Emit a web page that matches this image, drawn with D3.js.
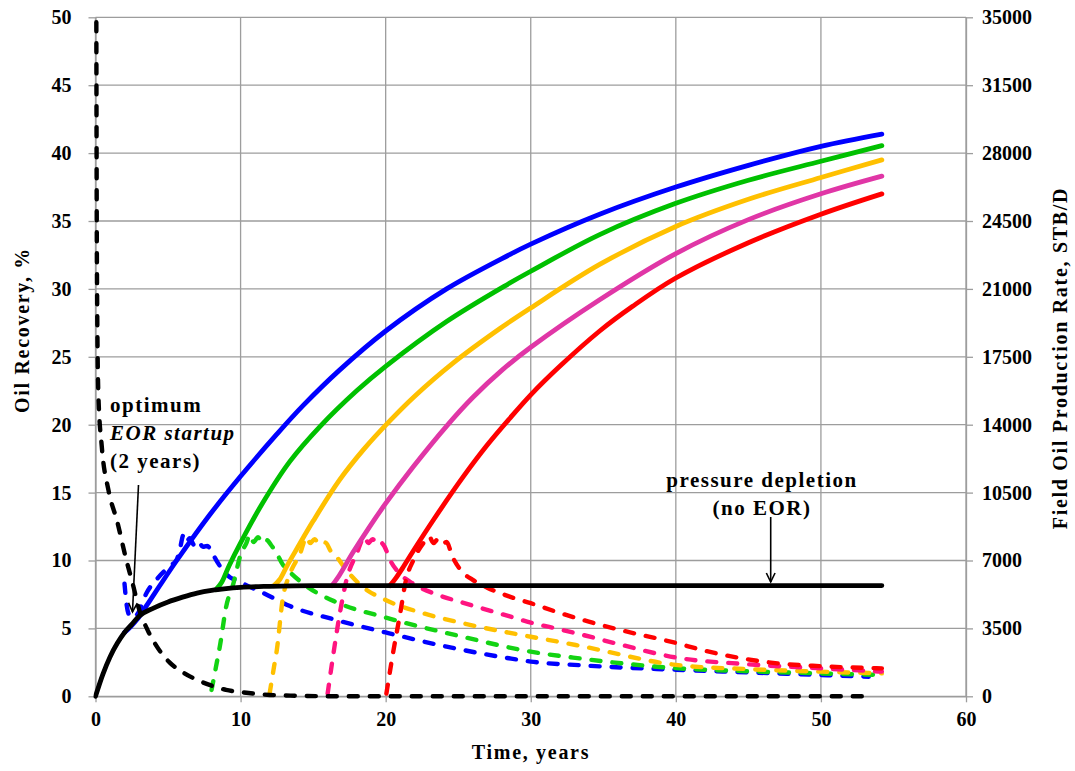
<!DOCTYPE html>
<html>
<head>
<meta charset="utf-8">
<script src="https://cdn.jsdelivr.net/npm/d3@7"></script>
<style>
  html, body { margin: 0; padding: 0; background: #fff; }
  svg { display: block; }
  text { font-family: "Liberation Serif", "Times New Roman", serif; font-weight: bold; fill: #000; }
</style>
</head>
<body>
<svg id="chart" width="1075" height="771"></svg>
<script>
// Axis ticks
const timeTicks = [0, 10, 20, 30, 40, 50, 60];
const recoveryTicks = [0, 5, 10, 15, 20, 25, 30, 35, 40, 45, 50];
const rateTicks = [0, 3500, 7000, 10500, 14000, 17500, 21000, 24500, 28000, 31500, 35000];

// Oil recovery, % — [time in years, recovery]
const recoveryDepletion = [[0,0],[0.5,1.6],[1,2.9],[1.5,3.9],[2,4.7],[2.5,5.3],[3,5.9],[4,6.5],[5,6.95],[6,7.3],[7,7.6],[8,7.8],[9,7.93],[10,8.02],[12,8.1],[15,8.15],[54.2,8.15]];
const recoveryEOR2  = [[2.0,4.7],[2.4,5.1],[2.9,5.7],[3.6,6.8],[4.4,8.1],[5.6,10.0],[7.9,13.4],[10,16.2],[12.5,19.3],[14.3,21.4],[16.8,24.0],[20,26.9],[24.2,30.0],[28.5,32.5],[30,33.3],[34.75,35.5],[40,37.5],[45,39.1],[50,40.5],[54.2,41.4]];
const recoveryEOR8  = [[8.3,7.85],[8.7,8.4],[9.2,9.6],[10,11.3],[11.5,14.2],[13.4,17.3],[15.5,19.9],[18,22.5],[20,24.3],[24.2,27.6],[28.5,30.4],[30,31.3],[34.75,34.0],[40,36.3],[45,38.0],[50,39.4],[54.2,40.55]];
const recoveryEOR12 = [[12.3,8.15],[12.7,8.6],[13.2,9.6],[13.9,10.9],[15,12.9],[16.8,15.9],[18.5,18.2],[20.3,20.3],[22,22.1],[24.6,24.5],[27.9,27.1],[30,28.6],[34.75,31.8],[40,34.6],[45,36.6],[50,38.2],[54.2,39.5]];
const recoveryEOR16 = [[16.3,8.15],[16.8,8.9],[17.75,10.6],[18.9,12.5],[20,14.2],[21.9,16.9],[24.2,19.9],[26,22.0],[28,24.0],[30,25.7],[34.75,29.2],[40,32.6],[45,35.1],[50,37.0],[54.2,38.3]];
const recoveryEOR20 = [[20.3,8.15],[20.7,8.7],[21.2,9.5],[21.9,10.7],[23.3,13.0],[25.3,16.1],[27,18.5],[28.5,20.4],[30,22.2],[32,24.3],[34.75,26.9],[37,28.7],[40,30.8],[45,33.4],[50,35.5],[54.2,37.0]];

// Field oil production rate, STB/D — [time in years, rate]
const rateDepletion = [[0.05,38000],[0.1,22000],[0.2,15500],[0.43,12900],[0.9,10600],[1.5,9000],[2.1,7100],[2.6,5700],[3.0,4500],[3.6,3400],[4.2,2600],[5.1,1750],[6,1250],[7.2,780],[8.2,500],[9,330],[10,220],[11,130],[12,70],[14,25],[17,0],[53.5,0]];
const rateEOR2  = [[2.0,5800],[2.15,4700],[2.35,4150],[2.6,4050],[2.9,4250],[3.5,5300],[4.3,6100],[5.1,6700],[5.6,7050],[5.85,7700],[6.05,8300],[6.25,7950],[6.5,8150],[6.8,7800],[7.1,8000],[7.4,7700],[7.7,7750],[8.1,7300],[8.5,6800],[9.0,6300],[10,5880],[11.5,5350],[13.4,4650],[16.6,3930],[20,3290],[24.2,2560],[28.5,1960],[30,1790],[33.4,1600],[40,1370],[45,1230],[50,1100],[53.3,1010]];
const rateEOR8  = [[8.0,330],[8.3,1500],[8.6,2700],[9.0,4600],[9.5,5800],[10.0,7300],[10.4,7900],[10.64,8330],[10.9,7950],[11.2,8200],[11.5,7900],[11.8,8050],[12.1,7800],[12.5,7350],[12.9,6800],[13.4,6400],[14.5,5700],[16.6,4850],[20,4060],[25.3,3070],[30,2300],[33.4,1950],[40,1450],[45,1290],[50,1180],[54.2,1100]];
const rateEOR12 = [[12.0,140],[12.3,1500],[12.5,2400],[12.9,5000],[13.4,6300],[14.1,7350],[14.55,8200],[14.8,7900],[15.1,8100],[15.4,7850],[15.7,7950],[15.9,7900],[16.2,7500],[16.6,7200],[17.3,6500],[18.4,5650],[20,4960],[22.5,4300],[25.3,3770],[30,3070],[32,2800],[33.4,2600],[40,1620],[45,1400],[50,1270],[54.2,1180]];
const rateEOR16 = [[16.0,140],[16.4,2200],[16.84,4270],[17.3,6000],[18.0,7350],[18.56,8230],[18.8,7900],[19.1,8100],[19.4,7850],[19.6,7950],[19.9,7750],[20.3,7030],[21.0,6300],[21.9,5800],[23.7,5200],[25.3,4830],[28.5,4130],[30,3800],[32,3450],[33.4,3200],[36,2700],[40,2000],[45,1650],[50,1440],[54.2,1270]];
const rateEOR20 = [[20.05,140],[20.5,2200],[21.0,4270],[21.4,6000],[21.9,7000],[22.6,7900],[23.0,8230],[23.3,7900],[23.6,8100],[23.9,7850],[24.2,7950],[24.6,7200],[25.3,6400],[26.0,6000],[27,5600],[28.5,5150],[30,4800],[32,4300],[34,3850],[36,3450],[40,2750],[42,2350],[44.6,1950],[47,1700],[50,1550],[54.2,1440]];

const svg = d3.select("#chart");
const plot = { left: 95.5, right: 966, top: 17.3, bottom: 696.3 };

const x = d3.scaleLinear().domain([0, 60]).range([plot.left, plot.right]);
const yRec = d3.scaleLinear().domain([0, 50]).range([plot.bottom, plot.top]);
const yRate = d3.scaleLinear().domain([0, 35000]).range([plot.bottom, plot.top]);

const gridColor = "#9d9d9d";

// Grid lines
const grid = svg.append("g");
grid.selectAll("line.h").data(recoveryTicks).join("line")
  .attr("x1", plot.left).attr("x2", plot.right)
  .attr("y1", d => yRec(d)).attr("y2", d => yRec(d))
  .attr("stroke", gridColor).attr("stroke-width", 1.3);
grid.selectAll("line.v").data(timeTicks).join("line")
  .attr("x1", d => x(d)).attr("x2", d => x(d))
  .attr("y1", plot.top).attr("y2", plot.bottom)
  .attr("stroke", gridColor).attr("stroke-width", 1.3);

// Axes
function styleAxis(g) {
  g.selectAll("path.domain").attr("stroke", gridColor).attr("stroke-width", 1.3);
  g.selectAll(".tick line").attr("stroke", gridColor).attr("stroke-width", 1.3);
  g.selectAll(".tick text").style("font-size", "20px")
    .style("font-family", "'Liberation Serif', 'Times New Roman', serif")
    .style("font-weight", "bold").attr("fill", "#000");
}
svg.append("g").attr("transform", `translate(${plot.left},0)`)
  .call(d3.axisLeft(yRec).tickValues(recoveryTicks).tickFormat(d3.format("d")).tickSize(7).tickSizeOuter(0).tickPadding(17))
  .call(styleAxis);
svg.append("g").attr("transform", `translate(${plot.right},0)`)
  .call(d3.axisRight(yRate).tickValues(rateTicks).tickFormat(d3.format("d")).tickSize(7).tickSizeOuter(0).tickPadding(9))
  .call(styleAxis);
svg.append("g").attr("transform", `translate(0,${plot.bottom})`)
  .call(d3.axisBottom(x).tickValues(timeTicks).tickFormat(d3.format("d")).tickSize(6).tickSizeOuter(0).tickPadding(10))
  .call(styleAxis);

// Axis titles
svg.append("text")
  .attr("transform", "translate(22,330) rotate(-90)")
  .attr("text-anchor", "middle").attr("dominant-baseline", "central")
  .style("font-size", "20px").style("letter-spacing", "1.7px")
  .text("Oil Recovery, %");
svg.append("text")
  .attr("transform", "translate(1060,358) rotate(-90)")
  .attr("text-anchor", "middle").attr("dominant-baseline", "central")
  .style("font-size", "20px").style("letter-spacing", "1.7px")
  .text("Field Oil Production Rate, STB/D");
svg.append("text")
  .attr("x", 531).attr("y", 759)
  .attr("text-anchor", "middle")
  .style("font-size", "20px").style("letter-spacing", "1.7px")
  .text("Time, years");

// Curves
svg.append("defs").append("clipPath").attr("id", "plotClip")
  .append("rect").attr("x", plot.left - 2).attr("y", plot.top)
  .attr("width", plot.right - plot.left + 4).attr("height", plot.bottom - plot.top + 3);

const curves = svg.append("g").attr("clip-path", "url(#plotClip)");
const recLine = d3.line().x(d => x(d[0])).y(d => yRec(d[1])).curve(d3.curveCatmullRom.alpha(0.5));
const depletionLine = d3.line().x(d => x(d[0])).y(d => yRec(d[1])).curve(d3.curveMonotoneX);
const rateLine = d3.line().x(d => x(d[0])).y(d => yRate(d[1])).curve(d3.curveMonotoneX);

const rateSeries = [
  { data: rateEOR2,  color: "#0000ff" },
  { data: rateEOR8,  color: "#13d313" },
  { data: rateEOR12, color: "#ffc000" },
  { data: rateEOR16, color: "#ff1480" },
  { data: rateEOR20, color: "#ff0000" }
];
const recoverySeries = [
  { data: recoveryEOR20, color: "#ff0000" },
  { data: recoveryEOR16, color: "#e036a6" },
  { data: recoveryEOR12, color: "#ffc000" },
  { data: recoveryEOR8,  color: "#00c000" },
  { data: recoveryEOR2,  color: "#0000ff" }
];

rateSeries.forEach(s => {
  curves.append("path").attr("d", rateLine(s.data))
    .attr("fill", "none").attr("stroke", s.color).attr("stroke-width", 4.4)
    .attr("stroke-linecap", "round").attr("stroke-dasharray", "9,12");
});
recoverySeries.forEach(s => {
  curves.append("path").attr("d", recLine(s.data))
    .attr("fill", "none").attr("stroke", s.color).attr("stroke-width", 4.8)
    .attr("stroke-linecap", "round");
});
curves.append("path").attr("d", depletionLine(recoveryDepletion))
  .attr("fill", "none").attr("stroke", "#000").attr("stroke-width", 4.8)
  .attr("stroke-linecap", "round");
curves.append("path").attr("d", rateLine(rateDepletion))
  .attr("fill", "none").attr("stroke", "#000").attr("stroke-width", 4.4)
  .attr("stroke-linecap", "round").attr("stroke-dasharray", "9,12");

// Annotations
function arrow(x1, y1, x2, y2) {
  const g = svg.append("g").attr("stroke", "#000").attr("stroke-width", 1.6).attr("fill", "none");
  g.append("line").attr("x1", x1).attr("y1", y1).attr("x2", x2).attr("y2", y2);
  const ang = Math.atan2(y2 - y1, x2 - x1);
  const len = 10, spread = 0.45;
  const p1 = [x2 - len * Math.cos(ang - spread), y2 - len * Math.sin(ang - spread)];
  const p2 = [x2 - len * Math.cos(ang + spread), y2 - len * Math.sin(ang + spread)];
  g.append("path").attr("d", `M${p1[0]},${p1[1]}L${x2},${y2}L${p2[0]},${p2[1]}`);
}

const noteStyle = t => t.style("font-size", "21px").style("letter-spacing", "1.5px");
svg.append("text").attr("x", 110).attr("y", 412).call(noteStyle).text("optimum");
svg.append("text").attr("x", 110).attr("y", 440).call(noteStyle).style("font-style", "italic").text("EOR startup");
svg.append("text").attr("x", 110).attr("y", 468).call(noteStyle).text("(2 years)");
arrow(138.5, 485, 132.5, 612);

svg.append("text").attr("x", 762).attr("y", 487).attr("text-anchor", "middle").call(noteStyle).text("pressure depletion");
svg.append("text").attr("x", 762).attr("y", 515).attr("text-anchor", "middle").call(noteStyle).text("(no EOR)");
arrow(770.7, 517, 770.7, 582);
</script>
</body>
</html>
